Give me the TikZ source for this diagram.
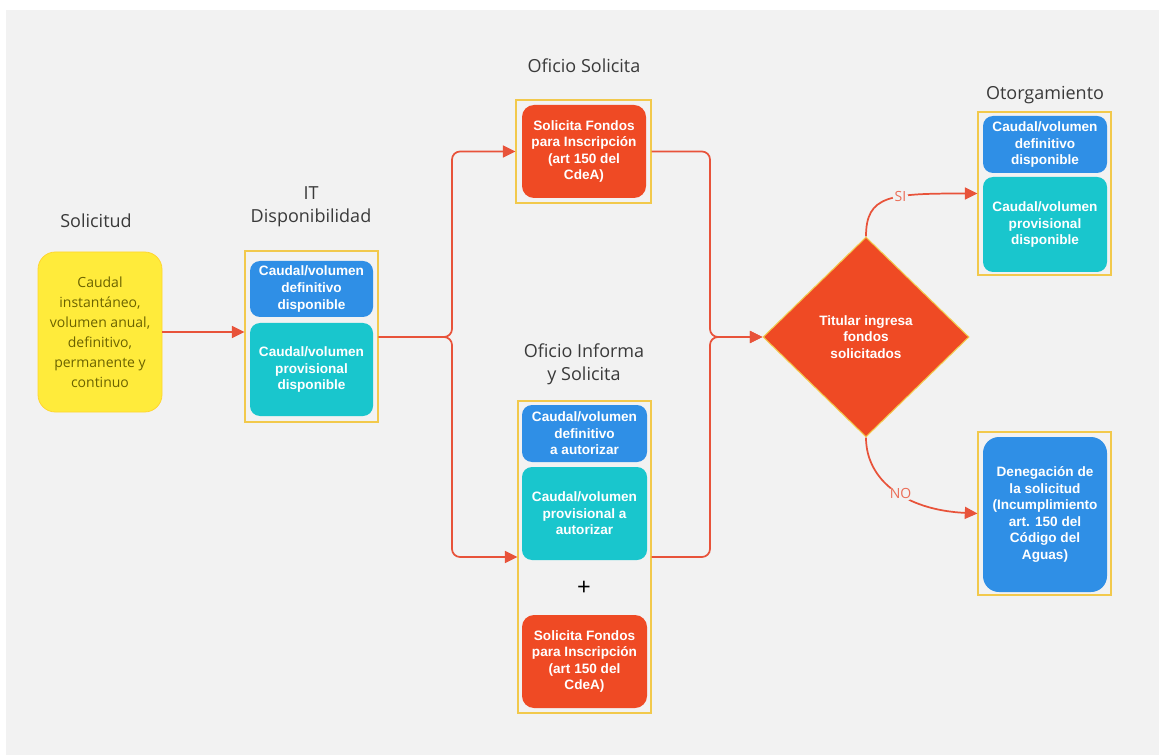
\documentclass[tikz,border=0pt]{standalone}
\usepackage{fontspec}
\setmainfont{Liberation Sans}
\newfontfamily\labelfont{Open Sans}
\usetikzlibrary{arrows.meta,shapes.geometric}

\definecolor{bgcol}{HTML}{F2F2F2}
\definecolor{flowcol}{HTML}{E8533A}
\definecolor{gold}{HTML}{F2C94C}
\definecolor{blueb}{HTML}{2F8FE6}
\definecolor{cyanb}{HTML}{19C6CD}
\definecolor{redb}{HTML}{EF4A24}
\definecolor{yelb}{HTML}{FFEB3B}
\definecolor{yeltx}{HTML}{6B6200}
\definecolor{titletx}{HTML}{3A3A3A}

\begin{document}
\begin{tikzpicture}[x=0.75pt,y=-0.75pt,
		box/.style={rounded corners=7.5pt, align=center, text=white, inner sep=0pt,
			font=\fontsize{10.2}{12.4}\selectfont\bfseries},
		bluebox/.style={box, fill=blueb},
		cyanbox/.style={box, fill=cyanb},
		redbox/.style={box, fill=redb, rounded corners=9pt},
		holder/.style={draw=gold, line width=0.8pt, inner sep=0pt},
		title/.style={align=center, text=titletx, inner sep=0pt,
			font=\labelfont\fontsize{13.5}{17}\selectfont},
		conn/.style={draw=flowcol, line width=1.3pt, rounded corners=6pt,
			-{Triangle[length=9.5pt,width=9pt]}},
		answer/.style={fill=bgcol, text=flowcol!85, inner sep=1.5pt,
			font=\labelfont\fontsize{10.5}{12}\selectfont}]
	\def\px{0.75pt}
	
	% fondo
	\fill[white] (0,0) rectangle (1159,755);
	\fill[bgcol] (6,10) rectangle (1159,755);
	\useasboundingbox (0,0) rectangle (1159,755);
	
	% solicitud
	\node[title] (solT) at (96,221) {Solicitud};
	\node[rounded corners=13pt, fill=yelb, draw=yelb!80!orange, line width=0.6pt,
		minimum width=124*\px, minimum height=160*\px, inner sep=0pt, align=center,
		text=yeltx, font=\labelfont\fontsize{10.5}{15}\selectfont] (sol) at (100,332)
		{Caudal\\instantáneo,\\volumen anual,\\definitivo,\\permanente y\\continuo};
	
	% IT disponibilidad
	\node[title] (itT) at (311,207) {IT\\Disponibilidad};
	\node[holder, minimum width=133*\px, minimum height=171*\px] (itC) at (311.5,336.5) {};
	\node[bluebox, minimum width=123*\px, minimum height=56*\px] (itA) at (311.5,289)
		{Caudal/volumen\\definitivo\\disponible};
	\node[cyanbox, minimum width=123*\px, minimum height=93*\px] (itB) at (311.5,369.5)
		{Caudal/volumen\\provisional\\disponible};
	
	% oficio solicita
	\node[title] (osT) at (584,66) {Oficio Solicita};
	\node[holder, minimum width=135*\px, minimum height=103*\px] (osC) at (583.5,151.5) {};
	\node[redbox, minimum width=124*\px, minimum height=93*\px] (osA) at (584,151.5)
		{Solicita Fondos\\para Inscripción\\(art 150 del\\CdeA)};
	
	% oficio informa y solicita
	\node[title] (oiT) at (584,364) {Oficio Informa\\y Solicita};
	\node[holder, minimum width=133*\px, minimum height=312*\px] (oiC) at (584.5,557) {};
	\node[bluebox, minimum width=125*\px, minimum height=57*\px] (oiA) at (584.5,433.5)
		{Caudal/volumen\\definitivo\\a autorizar};
	\node[cyanbox, minimum width=125*\px, minimum height=93*\px] (oiB) at (584.5,513.5)
		{Caudal/volumen\\provisional a\\autorizar};
	\node[text=black, font=\labelfont\fontsize{18}{20}\selectfont] (plus) at (584,588) {+};
	\node[redbox, minimum width=125*\px, minimum height=93*\px] (oiR) at (584.5,661.5)
		{Solicita Fondos\\para Inscripción\\(art 150 del\\CdeA)};
	
	% decision
	\node[diamond, fill=redb, draw=gold, line width=0.8pt, inner sep=0pt,
		minimum width=206*\px, minimum height=200*\px, align=center, text=white,
		font=\fontsize{10.2}{12.4}\selectfont\bfseries] (dia) at (866,337)
		{Titular ingresa\\fondos\\solicitados};
	
	% otorgamiento
	\node[title] (otT) at (1045,95.5) {Otorgamiento};
	\node[holder, minimum width=133*\px, minimum height=163*\px] (otC) at (1044.5,193.5) {};
	\node[bluebox, minimum width=124*\px, minimum height=57*\px] (otA) at (1045,144.5)
		{Caudal/volumen\\definitivo\\disponible};
	\node[cyanbox, minimum width=124*\px, minimum height=95*\px] (otB) at (1045,224.5)
		{Caudal/volumen\\provisional\\disponible};
	
	% denegacion
	\node[holder, minimum width=133*\px, minimum height=163*\px] (deC) at (1044.5,513.5) {};
	\node[bluebox, rounded corners=12pt, minimum width=124*\px, minimum height=155*\px] (deA) at (1045,514.5)
		{Denegación de\\la solicitud\\(Incumplimiento\\art. 150 del\\Código del\\Aguas)};
	
	% conectores
	\coordinate (split) at (452,337);
	\coordinate (merge) at (710,337);
	\draw[conn] (sol.east) -- (sol.east -| itC.west);
	\draw[conn] (itC.east |- split) -- (split) |- (osC.west);
	\draw[conn] (itC.east |- split) -- (split) |- (oiC.west);
	\draw[conn] (osC.east) -| (merge) -- (dia.west);
	\draw[conn] (oiC.east) -| (merge) -- (dia.west);
	\draw[conn] (dia.north) .. controls (866,195) and (890,193.5) .. (otC.west)
		node[answer, pos=0.6] {SI};
	\draw[conn] (dia.south) .. controls (866,480) and (905,510) .. (deC.west)
		node[answer, pos=0.55] {NO};
\end{tikzpicture}
\end{document}
